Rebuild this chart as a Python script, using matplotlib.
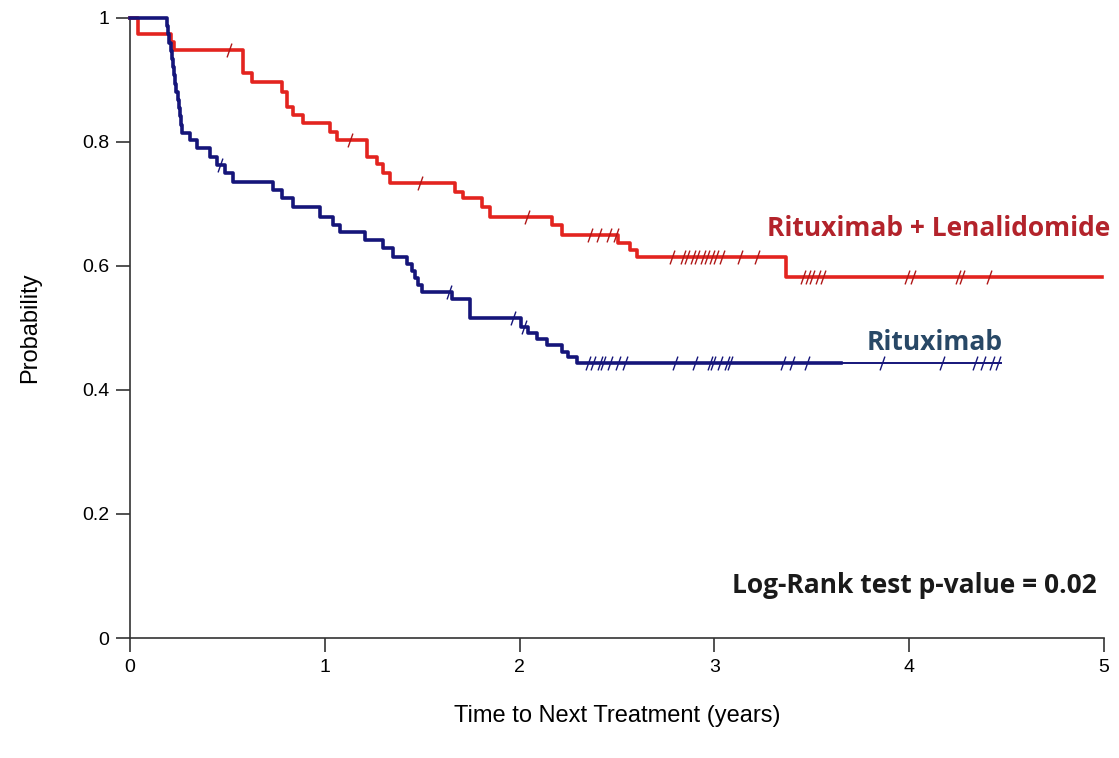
import numpy as np
import matplotlib.pyplot as plt
from matplotlib.path import Path

# Kaplan-Meier step data (time in years, survival probability)
rl_times = [0, 0.04, 0.21, 0.225, 0.58, 0.626, 0.78, 0.805, 0.837, 0.888, 1.027, 1.062,
            1.217, 1.268, 1.299, 1.335, 1.668, 1.709, 1.807, 1.848, 2.166, 2.218,
            2.505, 2.567, 2.603, 3.37]
rl_surv = [1.0, 0.974, 0.961, 0.948, 0.911, 0.897, 0.881, 0.856, 0.844, 0.831, 0.816, 0.803,
           0.776, 0.765, 0.750, 0.734, 0.719, 0.710, 0.695, 0.679, 0.666, 0.650,
           0.637, 0.626, 0.615, 0.582]
rl_end = 4.99
rl_censor = [0.51, 1.13, 1.49, 2.04, 2.36, 2.41, 2.46, 2.495, 2.78, 2.84, 2.86, 2.89, 2.91,
             2.94, 2.96, 2.99, 3.01, 3.04, 3.13, 3.22, 3.455, 3.48, 3.50, 3.53, 3.56,
             3.99, 4.02, 4.25, 4.27, 4.41]

r_times = [0, 0.19, 0.196, 0.202, 0.208, 0.214, 0.22, 0.226, 0.232, 0.238, 0.244, 0.25,
           0.256, 0.262, 0.268, 0.308, 0.344, 0.41, 0.447, 0.49, 0.53, 0.734, 0.78, 0.837,
           0.975, 1.04, 1.078, 1.206, 1.30, 1.35, 1.42, 1.45, 1.463, 1.478, 1.50, 1.653,
           1.745, 2.007, 2.043, 2.09, 2.14, 2.22, 2.25, 2.295]
r_surv = [1.0, 0.987, 0.974, 0.960, 0.947, 0.934, 0.921, 0.908, 0.894, 0.881, 0.868, 0.855,
          0.842, 0.828, 0.815, 0.803, 0.790, 0.776, 0.763, 0.750, 0.735, 0.723, 0.710, 0.695,
          0.679, 0.666, 0.655, 0.642, 0.629, 0.615, 0.603, 0.592, 0.581, 0.569, 0.558, 0.547,
          0.516, 0.502, 0.492, 0.482, 0.473, 0.461, 0.453, 0.444]
r_end = 4.47
r_thick_end = 3.65
r_censor = [0.46, 1.64, 1.966, 2.02, 2.35, 2.377, 2.413, 2.428, 2.464, 2.505, 2.54, 2.80,
            2.90, 2.977, 2.993, 3.03, 3.065, 3.08, 3.35, 3.40, 3.475, 3.86, 4.17, 4.34,
            4.38, 4.425, 4.455]

red = '#e3241f'
navy = '#15157a'

# slanted censor tick
tick = Path([(-0.35, -1), (0.35, 1)], [Path.MOVETO, Path.LINETO])


def surv_at(times, surv, t):
    i = np.searchsorted(times, t, side='right') - 1
    return np.asarray(surv)[i]


fig = plt.figure(figsize=(11.19, 7.58), dpi=100)
ax = fig.add_axes([0.1162, 0.1583, 0.8704, 0.818])

# Rituximab + Lenalidomide
x = rl_times + [rl_end]
y = rl_surv + [rl_surv[-1]]
ax.step(x, y, where='post', color=red, lw=2.6, clip_on=False, zorder=3)
ax.plot(rl_censor, surv_at(rl_times, rl_surv, rl_censor), ls='none', marker=tick,
        ms=10, mew=1.0, color='#b01818', zorder=4)

# Rituximab
x = r_times + [r_thick_end]
y = r_surv + [r_surv[-1]]
ax.step(x, y, where='post', color=navy, lw=2.6, clip_on=False, zorder=3)
ax.plot([r_thick_end, r_end], [r_surv[-1]] * 2, color=navy, lw=1.4, zorder=3)
ax.plot(r_censor, surv_at(r_times, r_surv, r_censor), ls='none', marker=tick,
        ms=10, mew=1.0, color=navy, zorder=4)

ax.set_xlim(0, 5)
ax.set_ylim(0, 1)
ax.set_xticks([0, 1, 2, 3, 4, 5])
ax.set_yticks([0, 0.2, 0.4, 0.6, 0.8, 1])
ax.set_yticklabels(['0', '0.2', '0.4', '0.6', '0.8', '1'])

for s in ['top', 'right']:
    ax.spines[s].set_visible(False)
for s in ['left', 'bottom']:
    ax.spines[s].set_color('#333333')
    ax.spines[s].set_linewidth(1.2)
ax.tick_params(direction='out', length=10, width=1.2, color='#333333',
               labelsize=14, pad=5)
labels = ax.get_xticklabels() + ax.get_yticklabels()
[label.set_fontname('Liberation Sans') for label in labels]

ax.set_xlabel('Time to Next Treatment (years)', fontname='Liberation Sans',
              fontsize=17, va='center')
ax.xaxis.set_label_coords(0.5, -0.126)
ax.set_ylabel('Probability', fontname='Liberation Sans', fontsize=17, va='center')
ax.yaxis.set_label_coords(-0.103, 0.5)

ax.text(5.03, 0.661, 'Rituximab + Lenalidomide', color='#b3232b', fontsize=19,
        fontweight='bold', fontname='Open Sans', ha='right', va='center')
ax.text(4.48, 0.476, 'Rituximab', color='#284866', fontsize=19,
        fontweight='bold', fontname='Open Sans', ha='right', va='center')
ax.text(4.965, 0.085, 'Log-Rank test p-value = 0.02', color='#1a1a1a', fontsize=19,
        fontweight='bold', fontname='Open Sans', ha='right', va='center')

fig.savefig('out.png', dpi=100)
